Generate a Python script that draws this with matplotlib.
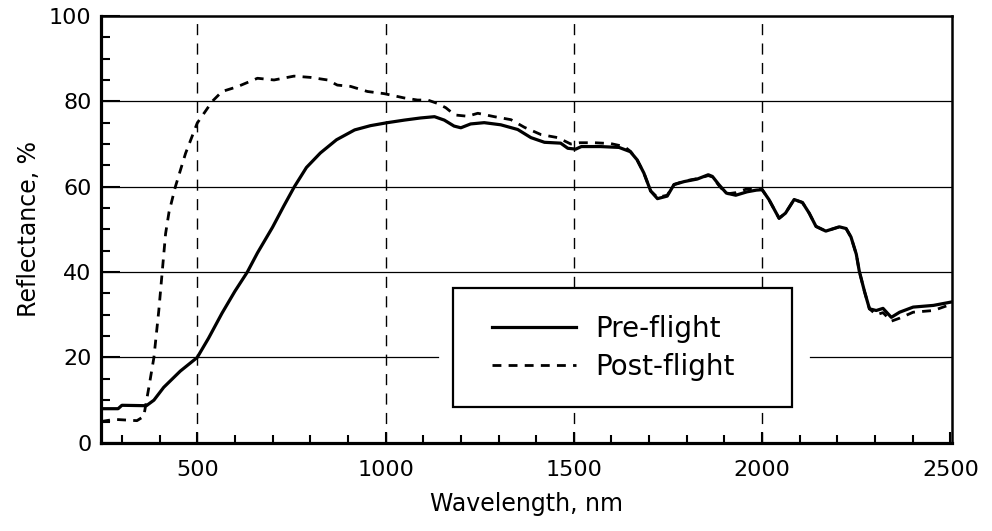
import matplotlib
matplotlib.use("Agg")
import matplotlib.pyplot as plt
from matplotlib.patches import Rectangle
from matplotlib.ticker import MultipleLocator

# --- values (wavelength nm, reflectance %) ---
pre_wl = [245, 290, 300, 365, 385, 411, 455, 500, 530, 566, 600, 633, 660, 700,
          730, 758, 790, 827, 870, 918, 960, 1005, 1050, 1093, 1130, 1156, 1182,
          1200, 1226, 1262, 1306, 1351, 1386, 1422, 1465, 1484, 1505, 1520, 1570,
          1620, 1650, 1668, 1686, 1704, 1722, 1748, 1766, 1793, 1828, 1857, 1868,
          1885, 1905, 1930, 1960, 1985, 2000, 2018, 2045, 2062, 2085, 2107, 2125,
          2143, 2169, 2205, 2223, 2236, 2250, 2258, 2272, 2285, 2303, 2321, 2343,
          2365, 2401, 2455, 2503]
pre_refl = [8.0, 8.0, 8.8, 8.7, 10.0, 13.0, 16.8, 20.0, 24.5, 30.4, 35.5, 40.0,
            44.5, 50.5, 55.5, 60.0, 64.5, 67.9, 71.0, 73.3, 74.3, 75.0, 75.6, 76.1,
            76.4, 75.6, 74.2, 73.8, 74.7, 75.0, 74.5, 73.4, 71.5, 70.4, 70.2, 69.0,
            68.8, 69.4, 69.4, 69.2, 68.2, 66.3, 63.2, 59.0, 57.2, 57.8, 60.5, 61.2,
            61.8, 62.8, 62.4, 60.5, 58.5, 58.0, 58.8, 59.2, 59.3, 57.0, 52.6, 53.8,
            57.0, 56.3, 53.8, 50.7, 49.6, 50.6, 50.2, 48.2, 44.2, 40.2, 35.4, 31.4,
            31.0, 31.5, 29.4, 30.6, 31.8, 32.2, 33.0]

post_wl = [245, 280, 340, 358, 372, 385, 398, 407, 416, 425, 442, 469, 500, 540,
           566, 606, 660, 704, 757, 801, 846, 872, 907, 952, 996, 1023, 1049, 1085,
           1112, 1138, 1160, 1184, 1218, 1245, 1289, 1333, 1369, 1413, 1457, 1492,
           1516, 1555, 1598, 1634, 1650, 1668, 1686, 1704, 1722, 1748, 1766, 1793,
           1828, 1857, 1868, 1885, 1905, 1930, 1960, 1985, 2000, 2018, 2045, 2062,
           2085, 2107, 2125, 2143, 2169, 2205, 2223, 2236, 2250, 2258, 2272, 2285,
           2303, 2321, 2343, 2365, 2401, 2455, 2503]
post_refl = [5.0, 5.5, 5.2, 6.2, 13.2, 20.0, 31.0, 40.0, 49.0, 54.0, 60.0, 67.8,
             74.9, 80.0, 82.3, 83.4, 85.4, 85.0, 85.9, 85.6, 85.0, 83.8, 83.5, 82.3,
             81.8, 81.3, 80.8, 80.3, 80.3, 79.5, 78.5, 76.8, 76.5, 77.2, 76.4, 75.7,
             73.9, 72.2, 71.5, 70.0, 70.3, 70.3, 70.1, 69.4, 68.3, 66.3, 63.2, 59.0,
             57.5, 58.0, 60.5, 61.3, 61.9, 62.6, 62.3, 60.3, 58.3, 58.6, 59.5, 59.4,
             59.3, 57.0, 52.6, 53.8, 57.0, 56.3, 53.8, 50.7, 49.6, 50.6, 50.2, 48.2,
             44.2, 40.2, 35.4, 31.4, 30.0, 30.5, 28.5, 29.2, 30.6, 31.0, 32.5]

x_major = [500, 1000, 1500, 2000, 2500]
y_major = [0, 20, 40, 60, 80, 100]

plt.rcParams["font.family"] = "DejaVu Sans"

fig = plt.figure(figsize=(9.92, 5.31), dpi=100)
ax = fig.add_axes([0.102, 0.166, 0.858, 0.804])

# grid: solid horizontal, dashed vertical; the 20% line is broken by the legend
for y in [40, 60, 80]:
    ax.axhline(y, color="black", lw=0.9, zorder=1)
ax.axhline(20, xmin=0, xmax=0.396, color="black", lw=0.9, zorder=1)
ax.axhline(20, xmin=0.833, xmax=1, color="black", lw=0.9, zorder=1)
for x in [500, 1000, 1500, 2000]:
    ax.axvline(x, color="black", lw=1.0, linestyle=(0, (8, 6)), zorder=1)

pre, = ax.plot(pre_wl, pre_refl, color="black", lw=2.3, zorder=3, label="Pre-flight")
post, = ax.plot(post_wl, post_refl, color="black", lw=2.0,
                linestyle=(0, (3.2, 2.6)), zorder=3, label="Post-flight")

ax.set_xlim(245, 2505)
ax.set_ylim(0, 100)
ax.set_xticks(x_major)
ax.set_yticks(y_major)
ax.xaxis.set_minor_locator(MultipleLocator(100))
ax.yaxis.set_minor_locator(MultipleLocator(5))
ax.tick_params(axis="both", which="both", direction="in", colors="black")
ax.tick_params(axis="x", which="major", length=8, width=1.5, pad=12, labelsize=16)
ax.tick_params(axis="x", which="minor", length=6, width=1.5)
ax.tick_params(axis="y", which="major", length=14, width=1.5, pad=7, labelsize=16)
ax.tick_params(axis="y", which="minor", length=6.5, width=1.5)

for side, w in [("left", 2.3), ("bottom", 2.3), ("top", 1.8), ("right", 1.8)]:
    ax.spines[side].set_linewidth(w)
    ax.spines[side].set_color("black")

ax.set_xlabel("Wavelength, nm", fontsize=17, labelpad=9)
ax.set_ylabel("Reflectance, %", fontsize=17, labelpad=6)

# legend box
ax.add_patch(Rectangle((0.4136, 0.0843), 0.398, 0.279, transform=ax.transAxes,
                       facecolor="white", edgecolor="black", lw=1.6, zorder=4))
leg = ax.legend(handles=[pre, post], loc="center left", bbox_to_anchor=(0.4595, 0.2225),
                frameon=False, fontsize=20, handlelength=3.0, handletextpad=0.7,
                labelspacing=0.35, borderpad=0, borderaxespad=0)
leg.set_zorder(5)

fig.savefig("out.png", dpi=100)
